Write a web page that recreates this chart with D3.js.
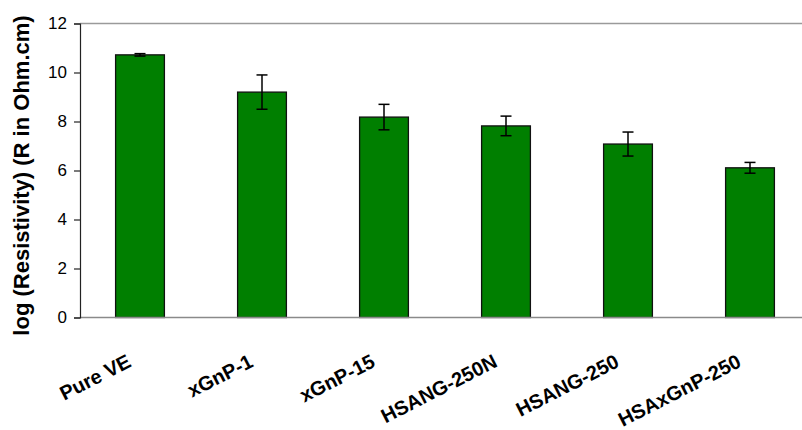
<!DOCTYPE html>
<html>
<head>
<meta charset="utf-8">
<script src="https://cdn.jsdelivr.net/npm/d3@7"></script>
<style>
  html, body { margin: 0; padding: 0; background: #fff; }
  svg { display: block; font-family: Arial, "Liberation Sans", sans-serif; }
</style>
</head>
<body>
<svg id="chart" width="802" height="430"></svg>
<script>
// Composite samples and their log resistivity (mean and error)
const categories = ["Pure VE", "xGnP-1", "xGnP-15", "HSANG-250N", "HSANG-250", "HSAxGnP-250"];
const logResistivity = [10.72, 9.2, 8.18, 7.82, 7.08, 6.11];
const errors = [0.05, 0.70, 0.52, 0.40, 0.49, 0.22];
const yTicks = [0, 2, 4, 6, 8, 10, 12];
const yLabel = "log (Resistivity) (R in Ohm.cm)";

const W = 802, H = 430;
const svg = d3.select("#chart");

const plot = { left: 80, top: 23.5, bottom: 317.5, right: 811 };

const x = d3.scaleBand()
  .domain(categories)
  .range([79, 811])
  .paddingInner(0.6)
  .paddingOuter(0.3);

const y = d3.scaleLinear()
  .domain([0, 12])
  .range([plot.bottom, plot.top]);

const data = categories.map((c, i) => ({ cat: c, v: logResistivity[i], e: errors[i] }));

// Plot-area frame line (top)
svg.append("line")
  .attr("x1", plot.left).attr("x2", W)
  .attr("y1", y(12)).attr("y2", y(12))
  .attr("stroke", "#9a9a9a").attr("stroke-width", 1.5);

// Bars
svg.append("g")
  .selectAll("rect")
  .data(data)
  .join("rect")
  .attr("x", d => x(d.cat))
  .attr("width", x.bandwidth())
  .attr("y", d => y(d.v))
  .attr("height", d => y(0) - y(d.v))
  .attr("fill", "#007f00")
  .attr("stroke", "#111")
  .attr("stroke-width", 1.3);

// Error bars
const eb = svg.append("g").attr("stroke", "#000").attr("stroke-width", 1.5);
const cap = 5.5;
data.forEach(d => {
  const cx = x(d.cat) + x.bandwidth() / 2;
  eb.append("line").attr("x1", cx).attr("x2", cx).attr("y1", y(d.v + d.e)).attr("y2", y(d.v - d.e));
  eb.append("line").attr("x1", cx - cap).attr("x2", cx + cap).attr("y1", y(d.v + d.e)).attr("y2", y(d.v + d.e));
  eb.append("line").attr("x1", cx - cap).attr("x2", cx + cap).attr("y1", y(d.v - d.e)).attr("y2", y(d.v - d.e));
});

// Category axis (bottom)
svg.append("line")
  .attr("x1", plot.left).attr("x2", W)
  .attr("y1", y(0)).attr("y2", y(0))
  .attr("stroke", "#8a8a8a").attr("stroke-width", 1.5);

const xLabels = svg.append("g")
  .attr("font-size", 20)
  .attr("font-weight", "bold")
  .attr("fill", "#000");
categories.forEach(c => {
  const cx = x(c) + x.bandwidth() / 2;
  xLabels.append("text")
    .attr("text-anchor", "end")
    .attr("transform", `translate(${cx - 7.5},366) rotate(-27)`)
    .text(c);
});

// Value axis (left)
const yAxis = d3.axisLeft(y)
  .tickValues(yTicks)
  .tickSize(6)
  .tickPadding(7)
  .tickFormat(d3.format("d"));

const ya = svg.append("g")
  .attr("transform", `translate(${plot.left},0)`)
  .call(yAxis);
ya.select(".domain").attr("stroke", "#222").attr("stroke-width", 1.2);
ya.selectAll(".tick line").attr("stroke", "#222").attr("stroke-width", 1.2);
ya.selectAll(".tick text")
  .attr("font-size", 17)
  .attr("font-family", "Arial, 'Liberation Sans', sans-serif")
  .attr("fill", "#000");

svg.append("text")
  .attr("transform", `translate(29,175.5) rotate(-90)`)
  .attr("text-anchor", "middle")
  .attr("font-size", 22)
  .attr("font-weight", "bold")
  .attr("fill", "#000")
  .text(yLabel);
</script>
</body>
</html>
